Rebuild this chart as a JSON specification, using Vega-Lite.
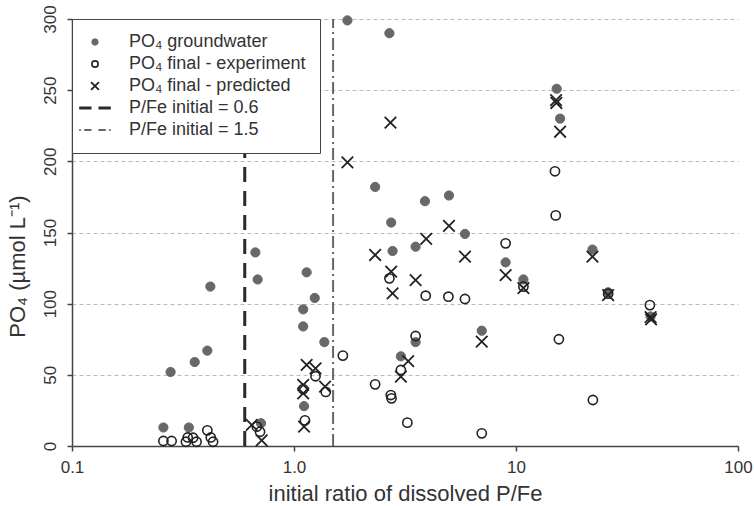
{
  "$schema": "https://vega.github.io/schema/vega-lite/v6.json",
  "width": 666,
  "height": 427,
  "autosize": {"type": "none"},
  "padding": {"left": 72, "top": 19, "right": 16, "bottom": 60},
  "background": "white",
  "config": {
    "view": {"stroke": null},
    "font": "Liberation Sans",
    "legend": {"labelLimit": 320}
  },
  "datasets": {
    "lines": [
      {"ratio": 0.6, "po4": 150, "series": "P/Fe initial = 0.6"},
      {"ratio": 1.5, "po4": 150, "series": "P/Fe initial = 1.5"}
    ],
    "points": [
      {"ratio": 0.258, "po4": 13, "series": "PO₄ groundwater"},
      {"ratio": 0.278, "po4": 52, "series": "PO₄ groundwater"},
      {"ratio": 0.336, "po4": 13, "series": "PO₄ groundwater"},
      {"ratio": 0.357, "po4": 59, "series": "PO₄ groundwater"},
      {"ratio": 0.407, "po4": 67, "series": "PO₄ groundwater"},
      {"ratio": 0.42, "po4": 112, "series": "PO₄ groundwater"},
      {"ratio": 0.67, "po4": 136, "series": "PO₄ groundwater"},
      {"ratio": 0.686, "po4": 117, "series": "PO₄ groundwater"},
      {"ratio": 0.71, "po4": 16, "series": "PO₄ groundwater"},
      {"ratio": 1.10, "po4": 96, "series": "PO₄ groundwater"},
      {"ratio": 1.10, "po4": 84, "series": "PO₄ groundwater"},
      {"ratio": 1.11, "po4": 28, "series": "PO₄ groundwater"},
      {"ratio": 1.14, "po4": 122, "series": "PO₄ groundwater"},
      {"ratio": 1.24, "po4": 104, "series": "PO₄ groundwater"},
      {"ratio": 1.37, "po4": 73, "series": "PO₄ groundwater"},
      {"ratio": 1.74, "po4": 299, "series": "PO₄ groundwater"},
      {"ratio": 2.32, "po4": 182, "series": "PO₄ groundwater"},
      {"ratio": 2.69, "po4": 290, "series": "PO₄ groundwater"},
      {"ratio": 2.74, "po4": 157, "series": "PO₄ groundwater"},
      {"ratio": 2.78, "po4": 137, "series": "PO₄ groundwater"},
      {"ratio": 3.03, "po4": 63, "series": "PO₄ groundwater"},
      {"ratio": 3.53, "po4": 73, "series": "PO₄ groundwater"},
      {"ratio": 3.53, "po4": 140, "series": "PO₄ groundwater"},
      {"ratio": 3.89, "po4": 172, "series": "PO₄ groundwater"},
      {"ratio": 4.99, "po4": 176, "series": "PO₄ groundwater"},
      {"ratio": 5.89, "po4": 149, "series": "PO₄ groundwater"},
      {"ratio": 7.01, "po4": 81, "series": "PO₄ groundwater"},
      {"ratio": 8.98, "po4": 129, "series": "PO₄ groundwater"},
      {"ratio": 10.8, "po4": 117, "series": "PO₄ groundwater"},
      {"ratio": 15.25, "po4": 251, "series": "PO₄ groundwater"},
      {"ratio": 15.8, "po4": 230, "series": "PO₄ groundwater"},
      {"ratio": 22.1, "po4": 138, "series": "PO₄ groundwater"},
      {"ratio": 26.0, "po4": 108, "series": "PO₄ groundwater"},
      {"ratio": 40.4, "po4": 91, "series": "PO₄ groundwater"},
      {"ratio": 0.258, "po4": 3.5, "series": "PO₄ final - experiment"},
      {"ratio": 0.281, "po4": 3.5, "series": "PO₄ final - experiment"},
      {"ratio": 0.326, "po4": 3, "series": "PO₄ final - experiment"},
      {"ratio": 0.332, "po4": 6, "series": "PO₄ final - experiment"},
      {"ratio": 0.351, "po4": 5.8, "series": "PO₄ final - experiment"},
      {"ratio": 0.364, "po4": 3, "series": "PO₄ final - experiment"},
      {"ratio": 0.407, "po4": 11, "series": "PO₄ final - experiment"},
      {"ratio": 0.422, "po4": 6, "series": "PO₄ final - experiment"},
      {"ratio": 0.432, "po4": 3, "series": "PO₄ final - experiment"},
      {"ratio": 0.68, "po4": 13.6, "series": "PO₄ final - experiment"},
      {"ratio": 0.703, "po4": 10, "series": "PO₄ final - experiment"},
      {"ratio": 1.10, "po4": 40, "series": "PO₄ final - experiment"},
      {"ratio": 1.12, "po4": 18, "series": "PO₄ final - experiment"},
      {"ratio": 1.25, "po4": 49, "series": "PO₄ final - experiment"},
      {"ratio": 1.39, "po4": 38, "series": "PO₄ final - experiment"},
      {"ratio": 1.66, "po4": 63.5, "series": "PO₄ final - experiment"},
      {"ratio": 2.32, "po4": 43.3, "series": "PO₄ final - experiment"},
      {"ratio": 2.69, "po4": 117.8, "series": "PO₄ final - experiment"},
      {"ratio": 2.73, "po4": 35.8, "series": "PO₄ final - experiment"},
      {"ratio": 2.75, "po4": 33.5, "series": "PO₄ final - experiment"},
      {"ratio": 3.03, "po4": 53.4, "series": "PO₄ final - experiment"},
      {"ratio": 3.24, "po4": 16.4, "series": "PO₄ final - experiment"},
      {"ratio": 3.53, "po4": 77.3, "series": "PO₄ final - experiment"},
      {"ratio": 3.92, "po4": 105.6, "series": "PO₄ final - experiment"},
      {"ratio": 4.96, "po4": 104.9, "series": "PO₄ final - experiment"},
      {"ratio": 5.89, "po4": 103.3, "series": "PO₄ final - experiment"},
      {"ratio": 7.01, "po4": 8.9, "series": "PO₄ final - experiment"},
      {"ratio": 8.98, "po4": 142.4, "series": "PO₄ final - experiment"},
      {"ratio": 10.8, "po4": 112, "series": "PO₄ final - experiment"},
      {"ratio": 14.98, "po4": 193, "series": "PO₄ final - experiment"},
      {"ratio": 15.1, "po4": 162, "series": "PO₄ final - experiment"},
      {"ratio": 15.6, "po4": 75, "series": "PO₄ final - experiment"},
      {"ratio": 22.2, "po4": 32.3, "series": "PO₄ final - experiment"},
      {"ratio": 26.0, "po4": 107, "series": "PO₄ final - experiment"},
      {"ratio": 40.1, "po4": 99, "series": "PO₄ final - experiment"},
      {"ratio": 0.645, "po4": 14.8, "series": "PO₄ final - predicted"},
      {"ratio": 0.715, "po4": 4, "series": "PO₄ final - predicted"},
      {"ratio": 1.10, "po4": 43, "series": "PO₄ final - predicted"},
      {"ratio": 1.10, "po4": 37, "series": "PO₄ final - predicted"},
      {"ratio": 1.11, "po4": 13.6, "series": "PO₄ final - predicted"},
      {"ratio": 1.14, "po4": 57, "series": "PO₄ final - predicted"},
      {"ratio": 1.25, "po4": 54.6, "series": "PO₄ final - predicted"},
      {"ratio": 1.38, "po4": 41.7, "series": "PO₄ final - predicted"},
      {"ratio": 1.74, "po4": 199.3, "series": "PO₄ final - predicted"},
      {"ratio": 2.32, "po4": 134.2, "series": "PO₄ final - predicted"},
      {"ratio": 2.72, "po4": 227.2, "series": "PO₄ final - predicted"},
      {"ratio": 2.74, "po4": 122.5, "series": "PO₄ final - predicted"},
      {"ratio": 2.78, "po4": 107.3, "series": "PO₄ final - predicted"},
      {"ratio": 3.03, "po4": 48.7, "series": "PO₄ final - predicted"},
      {"ratio": 3.27, "po4": 59.7, "series": "PO₄ final - predicted"},
      {"ratio": 3.53, "po4": 116.6, "series": "PO₄ final - predicted"},
      {"ratio": 3.94, "po4": 145.5, "series": "PO₄ final - predicted"},
      {"ratio": 4.99, "po4": 154.6, "series": "PO₄ final - predicted"},
      {"ratio": 5.89, "po4": 133, "series": "PO₄ final - predicted"},
      {"ratio": 7.01, "po4": 73.3, "series": "PO₄ final - predicted"},
      {"ratio": 8.98, "po4": 120.1, "series": "PO₄ final - predicted"},
      {"ratio": 10.8, "po4": 111, "series": "PO₄ final - predicted"},
      {"ratio": 15.15, "po4": 243, "series": "PO₄ final - predicted"},
      {"ratio": 15.2, "po4": 241, "series": "PO₄ final - predicted"},
      {"ratio": 15.8, "po4": 220.8, "series": "PO₄ final - predicted"},
      {"ratio": 22.1, "po4": 133, "series": "PO₄ final - predicted"},
      {"ratio": 26.0, "po4": 106, "series": "PO₄ final - predicted"},
      {"ratio": 40.4, "po4": 90.5, "series": "PO₄ final - predicted"},
      {"ratio": 40.6, "po4": 89, "series": "PO₄ final - predicted"}
    ]
  },
  "layer": [
    {
      "data": {"name": "lines"},
      "transform": [{"filter": "datum.series === 'P/Fe initial = 0.6'"}],
      "mark": {
        "type": "point",
        "filled": false,
        "opacity": 1,
        "size": 4,
        "stroke": "#2a2a2a",
        "strokeWidth": 3,
        "shape": "M0,213.5V198.5M0,189.5V174.5M0,165.5V150.5M0,141.5V126.5M0,117.5V102.5M0,93.5V78.5M0,69.5V54.5M0,45.5V30.5M0,21.5V6.5M0,-2.5V-17.5M0,-26.5V-41.5M0,-50.5V-65.5M0,-74.5V-89.5M0,-98.5V-113.5M0,-122.5V-137.5M0,-146.5V-161.5M0,-170.5V-185.5M0,-194.5V-209.5"
      },
      "encoding": {
        "x": {"field": "ratio", "type": "quantitative", "scale": {"type": "log", "domain": [0.1, 100], "nice": false}},
        "y": {"field": "po4", "type": "quantitative", "scale": {"domain": [0, 300], "nice": false}}
      }
    },
    {
      "data": {"name": "lines"},
      "transform": [{"filter": "datum.series === 'P/Fe initial = 1.5'"}],
      "mark": {
        "type": "point",
        "filled": false,
        "opacity": 1,
        "size": 4,
        "stroke": "#666666",
        "strokeWidth": 2,
        "shape": "M0,213.5V201.5M0,197.5V195.5M0,191.5V179.5M0,175.5V173.5M0,169.5V157.5M0,153.5V151.5M0,147.5V135.5M0,131.5V129.5M0,125.5V113.5M0,109.5V107.5M0,103.5V91.5M0,87.5V85.5M0,81.5V69.5M0,65.5V63.5M0,59.5V47.5M0,43.5V41.5M0,37.5V25.5M0,21.5V19.5M0,15.5V3.5M0,-0.5V-2.5M0,-6.5V-18.5M0,-22.5V-24.5M0,-28.5V-40.5M0,-44.5V-46.5M0,-50.5V-62.5M0,-66.5V-68.5M0,-72.5V-84.5M0,-88.5V-90.5M0,-94.5V-106.5M0,-110.5V-112.5M0,-116.5V-128.5M0,-132.5V-134.5M0,-138.5V-150.5M0,-154.5V-156.5M0,-160.5V-172.5M0,-176.5V-178.5M0,-182.5V-194.5M0,-198.5V-200.5M0,-204.5V-213.5"
      },
      "encoding": {
        "x": {"field": "ratio", "type": "quantitative"},
        "y": {"field": "po4", "type": "quantitative"}
      }
    },
    {
      "data": {"name": "points"},
      "mark": {"type": "point", "opacity": 1, "size": 85},
      "encoding": {
        "x": {
          "field": "ratio",
          "type": "quantitative",
          "scale": {"type": "log", "domain": [0.1, 100], "nice": false},
          "axis": {
            "values": [0.1, 1, 10, 100],
            "labelExpr": "datum.value < 0.5 ? '0.1' : datum.value < 5 ? '1.0' : datum.value < 50 ? '10' : '100'",
            "title": "initial ratio of dissolved P/Fe",
            "grid": false,
            "labelFlush": false,
            "labelOverlap": false,
            "tickSize": 5,
            "tickWidth": 1.5,
            "tickColor": "#444",
            "domainColor": "#444",
            "domainWidth": 1.5,
            "labelFontSize": 17,
            "labelColor": "#333",
            "labelPadding": 8,
            "titleFontSize": 22,
            "titleFontWeight": "normal",
            "titleColor": "#333",
            "titleBaseline": "middle",
            "titleY": 47
          }
        },
        "y": {
          "field": "po4",
          "type": "quantitative",
          "scale": {"domain": [0, 300], "nice": false},
          "axis": {
            "values": [0, 50, 100, 150, 200, 250, 300],
            "title": "PO₄ (µmol L⁻¹)",
            "grid": true,
            "gridColor": "#bbbbbb",
            "gridDash": [4, 3],
            "gridWidth": 1,
            "tickSize": 5,
            "tickWidth": 1.5,
            "tickColor": "#444",
            "domainColor": "#444",
            "domainWidth": 1.5,
            "labelAngle": -90,
            "labelAlign": "center",
            "labelBaseline": "alphabetic",
            "labelPadding": 12,
            "labelFontSize": 17,
            "labelColor": "#333",
            "titleFontSize": 22,
            "titleFontWeight": "normal",
            "titleColor": "#333",
            "titleBaseline": "middle",
            "titleX": -55,
            "titleY": 247
          }
        },
        "shape": {
          "field": "series",
          "type": "nominal",
          "scale": {
            "domain": ["PO₄ groundwater", "PO₄ final - experiment", "PO₄ final - predicted", "P/Fe initial = 0.6", "P/Fe initial = 1.5"],
            "range": ["circle", "circle", "M-1.25,-1.25L1.25,1.25M-1.25,1.25L1.25,-1.25", "M-5,0H-1.1M1.1,0H5", "M-5,0H-4.5M-3.4,0H-1.1M1.1,0H3.4M4.5,0H5"]
          },
          "legend": {
            "title": null,
            "orient": "top-left",
            "offset": 0,
            "padding": 14,
            "strokeColor": "#444",
            "fillColor": "white",
            "symbolSize": 40,
            "labelFontSize": 18,
            "labelColor": "#333",
            "labelOffset": 25,
            "labelLimit": 320,
            "rowPadding": 4
          }
        },
        "fill": {
          "field": "series",
          "type": "nominal",
          "scale": {
            "domain": ["PO₄ groundwater", "PO₄ final - experiment", "PO₄ final - predicted", "P/Fe initial = 0.6", "P/Fe initial = 1.5"],
            "range": ["#686868", "transparent", "transparent", "transparent", "transparent"]
          }
        },
        "stroke": {
          "field": "series",
          "type": "nominal",
          "scale": {
            "domain": ["PO₄ groundwater", "PO₄ final - experiment", "PO₄ final - predicted", "P/Fe initial = 0.6", "P/Fe initial = 1.5"],
            "range": ["#686868", "#222222", "#222222", "#2a2a2a", "#666666"]
          }
        },
        "strokeWidth": {
          "field": "series",
          "type": "nominal",
          "scale": {
            "type": "ordinal",
            "domain": ["PO₄ groundwater", "PO₄ final - experiment", "PO₄ final - predicted", "P/Fe initial = 0.6", "P/Fe initial = 1.5"],
            "range": [1, 1.6, 1.8, 3, 2]
          }
        }
      }
    }
  ]
}
